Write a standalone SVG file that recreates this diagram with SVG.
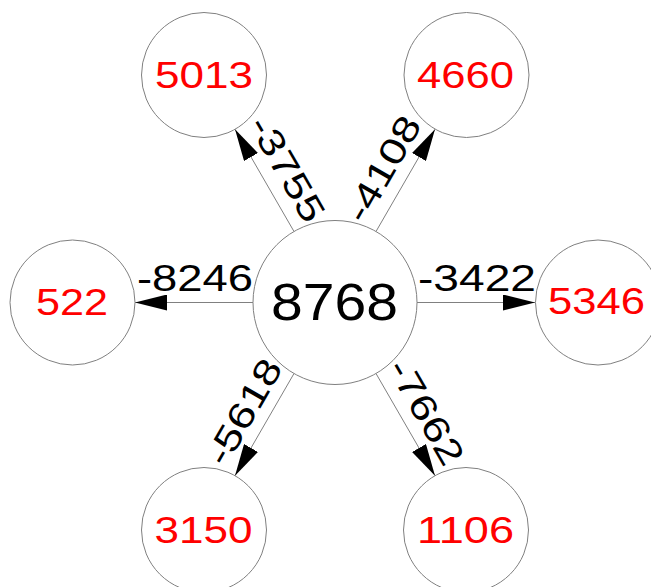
<svg xmlns="http://www.w3.org/2000/svg" width="651" height="587" viewBox="0 0 651 587">
<style>
.nc{fill:#ffffff;stroke:#808080;stroke-width:1}
.edge{stroke:#808080;stroke-width:1;fill:none;marker-end:url(#arr)}
.nl{font-family:"Liberation Sans",Arial,sans-serif;font-size:36px;fill:#ff0000;text-anchor:middle}
.cl{font-family:"Liberation Sans",Arial,sans-serif;font-size:52px;fill:#000000;text-anchor:middle}
.el{font-family:"Liberation Sans",Arial,sans-serif;font-size:36px;fill:#000000;text-anchor:middle}
</style>
<defs>
<marker id="arr" viewBox="0 0 32 16" markerWidth="32" markerHeight="16" refX="32" refY="8" orient="auto" markerUnits="userSpaceOnUse">
<path d="M0,0 L32,8 L0,16 z" fill="#000000"/>
</marker>
</defs>
<rect width="651" height="587" fill="#ffffff"/>
<g id="connectors">
<line class="edge" x1="294" y1="231.49" x2="235" y2="129.3"/>
<line class="edge" x1="376" y1="231.49" x2="435" y2="129.3"/>
<line class="edge" x1="253" y1="302.5" x2="135" y2="302.5"/>
<line class="edge" x1="417" y1="302.5" x2="535" y2="302.5"/>
<line class="edge" x1="294" y1="373.51" x2="235" y2="475.7"/>
<line class="edge" x1="376" y1="373.51" x2="435" y2="475.7"/>
<text class="el" transform="translate(266,181) rotate(60)" x="0" y="-12" textLength="116" lengthAdjust="spacingAndGlyphs">-3755</text>
<text class="el" transform="translate(404,181) rotate(-60)" x="0" y="-12" textLength="116" lengthAdjust="spacingAndGlyphs">-4108</text>
<text class="el" x="195" y="290.5" textLength="116" lengthAdjust="spacingAndGlyphs">-8246</text>
<text class="el" x="477" y="290.5" textLength="118" lengthAdjust="spacingAndGlyphs">-3422</text>
<text class="el" transform="translate(265,424) rotate(-60)" x="0" y="-12" textLength="116" lengthAdjust="spacingAndGlyphs">-5618</text>
<text class="el" transform="translate(405,424) rotate(60)" x="0" y="-12" textLength="116" lengthAdjust="spacingAndGlyphs">-7662</text>
</g>
<g id="node-center">
<circle class="nc" cx="335" cy="302.5" r="82"/>
<text class="cl" x="334.5" y="319.5" textLength="127" lengthAdjust="spacingAndGlyphs">8768</text>
</g>
<g id="node-5013">
<circle class="nc" cx="204" cy="75" r="62.5"/>
<text class="nl" x="204" y="88" textLength="98" lengthAdjust="spacingAndGlyphs">5013</text>
</g>
<g id="node-4660">
<circle class="nc" cx="466.5" cy="75" r="62.5"/>
<text class="nl" x="465.5" y="88" textLength="97" lengthAdjust="spacingAndGlyphs">4660</text>
</g>
<g id="node-522">
<circle class="nc" cx="72.5" cy="302.5" r="62.5"/>
<text class="nl" x="72" y="315" textLength="72" lengthAdjust="spacingAndGlyphs">522</text>
</g>
<g id="node-5346">
<circle class="nc" cx="598" cy="302.5" r="62.5"/>
<text class="nl" x="596.5" y="314" textLength="97" lengthAdjust="spacingAndGlyphs">5346</text>
</g>
<g id="node-3150">
<circle class="nc" cx="204" cy="530" r="62.5"/>
<text class="nl" x="203.5" y="543" textLength="98" lengthAdjust="spacingAndGlyphs">3150</text>
</g>
<g id="node-1106">
<circle class="nc" cx="466" cy="530" r="62.5"/>
<text class="nl" x="465.5" y="543" textLength="97" lengthAdjust="spacingAndGlyphs">1106</text>
</g>
</svg>
